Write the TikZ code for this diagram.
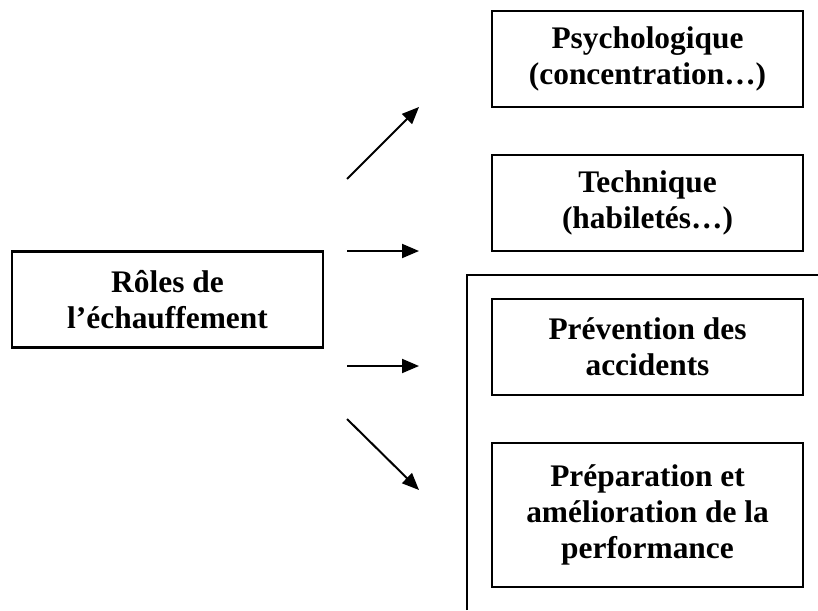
\documentclass[tikz,border=0pt]{standalone}
\usepackage{fontspec}
\setmainfont{Liberation Serif}
\usetikzlibrary{arrows.meta}
\usetikzlibrary{positioning}

\begin{document}
\begin{tikzpicture}[x=1pt, y=-1pt, box/.style={draw,
	line width=2.2pt, minimum width=311pt, minimum height=96pt,
	inner sep=0pt, align=center, font=\fontsize{31.4}{36}\selectfont\bfseries},
	fl/.style={-{Triangle[length=17pt,width=14pt]}, line width=2pt}]
\useasboundingbox (0,0) rectangle (818,610);
\node[box] (0) at (167.5, 299.5) {Rôles de\\l’échauffement};
\node[box] (1) at (647.5, 59) {Psychologique\\(concentration…)};
\node[box] (2) at (647.5, 203) {Technique\\(habiletés…)};
\node[box] (3) at (647.5, 347) {Prévention des\\accidents};
\node[box, minimum height=144pt] (4) at (647.5, 515) {Préparation et\\amélioration de la\\performance};
% cadre ouvert
\coordinate (c1) at (467, 610);
\coordinate (c2) at (467, 275);
\coordinate (c3) at (818, 275);
\draw[line width=2.2pt] (c1) -- (c2) -- (c3);
% fleches
\coordinate (a1) at (347, 179);
\coordinate (b1) at (419, 107);
\coordinate (a2) at (347, 251);
\coordinate (b2) at (419, 251);
\coordinate (a3) at (347, 366);
\coordinate (b3) at (419, 366);
\coordinate (a4) at (347, 419);
\coordinate (b4) at (419, 490);
\draw[fl] (a1) to (b1);
\draw[fl] (a2) to (b2);
\draw[fl] (a3) to (b3);
\draw[fl] (a4) to (b4);
\end{tikzpicture}
\end{document}
